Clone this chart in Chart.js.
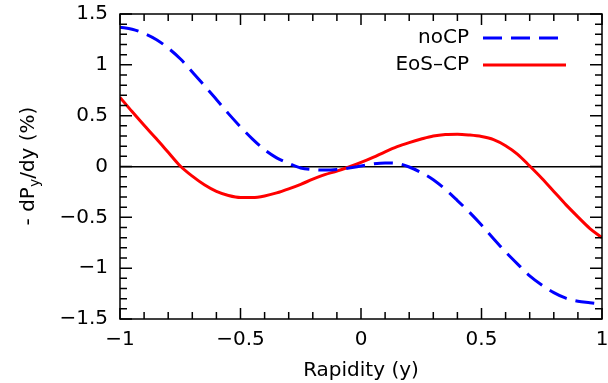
<!DOCTYPE html>
<html>
<head>
<meta charset="utf-8">
<script src="https://cdn.jsdelivr.net/npm/chart.js@4"></script>
<style>
  html, body { margin: 0; padding: 0; background: #fff; }
  #wrap { width: 608px; height: 383px; }
</style>
</head>
<body>
<div id="wrap"><canvas id="rapChart" width="608" height="383"></canvas></div>
<script>
// rapidity values and the two curves
var rapidity = [-1, -0.95, -0.9, -0.85, -0.8, -0.75, -0.7, -0.65, -0.6, -0.55, -0.5,
  -0.45, -0.4, -0.35, -0.3, -0.25, -0.2, -0.15, -0.1, -0.05, 0,
  0.05, 0.1, 0.15, 0.2, 0.25, 0.3, 0.35, 0.4, 0.45, 0.5,
  0.55, 0.6, 0.65, 0.7, 0.75, 0.8, 0.85, 0.9, 0.95, 1];
var noCP = [1.37, 1.35, 1.31, 1.25, 1.165, 1.06, 0.93, 0.795, 0.66, 0.52, 0.39,
  0.27, 0.165, 0.085, 0.03, -0.015, -0.03, -0.035, -0.03, -0.015, 0.005,
  0.025, 0.035, 0.03, -0.005, -0.06, -0.13, -0.225, -0.335, -0.45, -0.575,
  -0.71, -0.84, -0.96, -1.075, -1.165, -1.24, -1.295, -1.325, -1.34, -1.355];
var eosCP = [0.68, 0.54, 0.405, 0.275, 0.14, 0.005, -0.095, -0.18, -0.245, -0.285, -0.305,
  -0.305, -0.29, -0.26, -0.22, -0.175, -0.125, -0.08, -0.045, -0.005, 0.04,
  0.09, 0.145, 0.195, 0.235, 0.27, 0.30, 0.315, 0.318, 0.31, 0.295,
  0.265, 0.205, 0.12, 0.005, -0.115, -0.245, -0.375, -0.495, -0.61, -0.7];
var xTicks = [-1, -0.5, 0, 0.5, 1];
var yTicks = [-1.5, -1, -0.5, 0, 0.5, 1, 1.5];

var FONT = "'DejaVu Sans', sans-serif";

function pts(ys) {
  return rapidity.map(function (x, i) { return { x: x, y: ys[i] }; });
}
function fmt(v) {
  return v < 0 ? '\u2212' + Math.abs(v) : String(v);
}

// frame, inward ticks, legend and axis titles
var decor = {
  id: 'decor',
  afterDraw: function (chart) {
    var c = chart.ctx, a = chart.chartArea;
    var xs = chart.scales.x, ys = chart.scales.y;
    c.save();
    c.strokeStyle = '#000';
    c.lineWidth = 1.5;
    c.strokeRect(a.left, a.top, a.right - a.left, a.bottom - a.top);
    c.beginPath();
    for (var i = 0; i <= 20; i++) {
      var xv = -1 + i * 0.1;
      var len = (i % 5 === 0) ? 11 : 7;
      var px = xs.getPixelForValue(xv);
      c.moveTo(px, a.bottom); c.lineTo(px, a.bottom - len);
      c.moveTo(px, a.top); c.lineTo(px, a.top + len);
    }
    for (var j = 0; j <= 30; j++) {
      var yv = -1.5 + j * 0.1;
      var l2 = (j % 5 === 0) ? 12 : 7;
      var py = ys.getPixelForValue(yv);
      c.moveTo(a.left, py); c.lineTo(a.left + l2, py);
      c.moveTo(a.right, py); c.lineTo(a.right - l2, py);
    }
    c.stroke();

    // legend
    c.font = '20px ' + FONT;
    c.fillStyle = '#000';
    c.textAlign = 'right';
    c.textBaseline = 'middle';
    chart.data.datasets.forEach(function (ds, k) {
      var ly = 38 + k * 27;
      c.fillText(ds.label, 469, ly);
      c.strokeStyle = ds.borderColor;
      c.lineWidth = 3;
      c.setLineDash(ds.borderDash || []);
      c.beginPath();
      c.moveTo(483, ly); c.lineTo(k === 0 ? 562 : 566, ly);
      c.stroke();
      c.setLineDash([]);
    });

    // x title
    c.textAlign = 'center';
    c.fillText('Rapidity (y)', (a.left + a.right) / 2, 371);

    // y title with subscript
    c.translate(27, 166);
    c.rotate(-Math.PI / 2);
    var big = '20px ' + FONT, small = '14px ' + FONT;
    var p1 = '- dP', p2 = 'y', p3 = '/dy (%)';
    c.font = big; var w1 = c.measureText(p1).width, w3 = c.measureText(p3).width;
    c.font = small; var w2 = c.measureText(p2).width;
    var x0 = -(w1 + w2 + w3) / 2;
    c.textAlign = 'left';
    c.textBaseline = 'alphabetic';
    c.font = big; c.fillText(p1, x0, 7);
    c.font = small; c.fillText(p2, x0 + w1, 12);
    c.font = big; c.fillText(p3, x0 + w1 + w2, 7);
    c.restore();
  }
};

var rapChart = new Chart(document.getElementById('rapChart'), {
  type: 'line',
  data: {
    datasets: [{
      label: 'noCP',
      data: pts(noCP),
      borderColor: '#0000ff',
      borderWidth: 3,
      borderDash: [19, 9],
      pointRadius: 0,
      cubicInterpolationMode: 'monotone',
      fill: false
    }, {
      label: 'EoS\u2013CP',
      data: pts(eosCP),
      borderColor: '#ff0000',
      borderWidth: 3,
      pointRadius: 0,
      cubicInterpolationMode: 'monotone',
      fill: false
    }]
  },
  options: {
    responsive: false,
    animation: false,
    layout: { padding: { top: 14, right: 6, left: 0, bottom: 0 } },
    plugins: { legend: { display: false }, tooltip: { enabled: false } },
    scales: {
      x: {
        type: 'linear',
        min: -1, max: 1,
        afterBuildTicks: function (s) { s.ticks = xTicks.map(function (v) { return { value: v }; }); },
        afterFit: function (s) { s.height = 64; s.paddingLeft = 0; s.paddingRight = 0; },
        grid: { display: false, drawTicks: false },
        border: { display: false },
        ticks: { padding: 9, color: '#000', font: { family: FONT, size: 20 }, maxRotation: 0,
          callback: function (v) { return fmt(v); } }
      },
      y: {
        type: 'linear',
        min: -1.5, max: 1.5,
        afterBuildTicks: function (s) { s.ticks = yTicks.map(function (v) { return { value: v }; }); },
        afterFit: function (s) { s.width = 120; s.paddingTop = 0; s.paddingBottom = 0; },
        grid: {
          drawTicks: false,
          lineWidth: 1.5,
          color: function (ctx) { return ctx.tick && ctx.tick.value === 0 ? '#000' : 'rgba(0,0,0,0)'; }
        },
        border: { display: false },
        ticks: { padding: 12, color: '#000', font: { family: FONT, size: 20 },
          callback: function (v) { return fmt(v); } }
      }
    }
  },
  plugins: [decor]
});
</script>
</body>
</html>
